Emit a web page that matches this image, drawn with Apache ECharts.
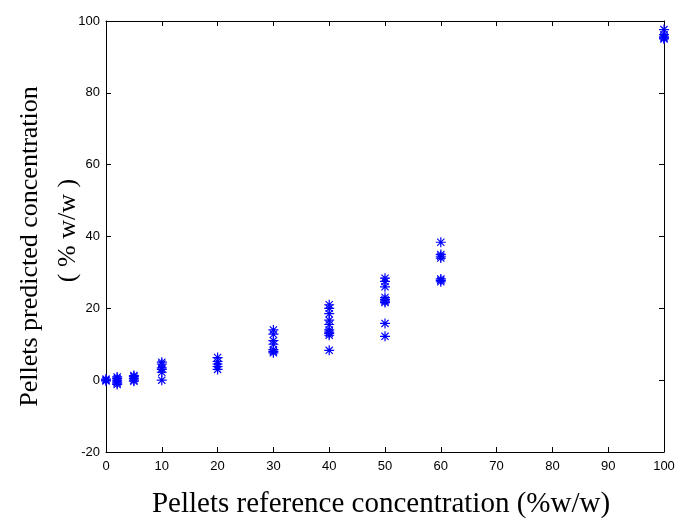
<!DOCTYPE html>
<html><head><meta charset="utf-8">
<script src="https://cdn.jsdelivr.net/npm/echarts@6/dist/echarts.min.js"></script>
<style>html,body{margin:0;padding:0;background:#fff}#c{width:680px;height:520px}</style>
</head><body><div id="c"></div>
<script>
const xTicks = [0,10,20,30,40,50,60,70,80,90,100];
const yTicks = [-20,0,20,40,60,80,100];
const refConc = [0,0,0, 2,2,2,2,2,2, 5,5,5,5,5, 10,10,10,10,10,10, 20,20,20,20,20, 30,30,30,30,30,30,30, 40,40,40,40,40,40,40,40,40,40, 50,50,50,50,50,50,50,50,50, 60,60,60,60,60,60,60, 100,100,100,100,100];
const predConc = [0,0.3,-0.2, -1.2,-0.5,0,0.5,0.9,-0.8, 0,0.5,1,1.3,-0.3, 0,2.2,3,3.4,4.5,5, 6.3,5.2,4.5,3.8,3, 14,12.8,11,10,8.5,8,7.6, 21,20,18.5,16.7,15.5,14,13.4,13,12.5,8.3, 28.4,27.5,26,23,22.4,22,21.6,15.8,12.2, 38.4,35,34.5,34,28.2,27.8,27.4, 97.6,96.2,95.6,95,95.3];

const asterisk = 'path://M4.4,0L5.6,0L5.6,10L4.4,10Z M0,4.4L10,4.4L10,5.6L0,5.6Z M1,1.8L1.8,1L9,8.2L8.2,9Z M8.2,1L9,1.8L1.8,9L1,8.2Z';
const tickFont = {fontFamily:'Liberation Sans Narrow, Liberation Sans, Arial, sans-serif', fontSize:13, color:'#000'};
const serif = 'Liberation Serif, Times New Roman, serif';
const axCommon = {
  axisLine:{show:true, onZero:false, lineStyle:{color:'#000', width:1}},
  axisTick:{show:true, inside:true, length:5, lineStyle:{color:'#000'}},
  splitLine:{show:false}
};
const chart = echarts.init(document.getElementById('c'));
chart.setOption({
  animation:false,
  backgroundColor:'#fff',
  grid:{left:106, right:16, top:21, bottom:68, containLabel:false, outerBoundsMode:'none'},
  xAxis:[
    Object.assign({type:'value', min:0, max:100, interval:10, position:'bottom',
      axisLabel:Object.assign({margin:8, formatter:v=>String(v)}, tickFont),
      name:'Pellets reference concentration (%w/w)', nameLocation:'middle', nameGap:38,
      nameTextStyle:{fontFamily:serif, fontSize:29, color:'#000', padding:[0,8,0,0]}}, axCommon),
    Object.assign({type:'value', min:0, max:100, interval:10, position:'top', axisLabel:{show:false}}, axCommon)
  ],
  yAxis:[
    Object.assign({type:'value', min:-20, max:100, interval:20, position:'left',
      axisLabel:Object.assign({margin:6, formatter:v=>String(v)}, tickFont),
      name:'{a|Pellets predicted concentration}\n{b|( % w/w )}', nameLocation:'middle', nameGap:19,
      nameMoveOverlap:false,
      nameTextStyle:{fontFamily:serif, fontSize:26, color:'#000', lineHeight:38,
        rich:{
          a:{fontFamily:serif, fontSize:26, color:'#000', lineHeight:38, padding:[0,20,0,0]},
          b:{fontFamily:serif, fontSize:26, color:'#000', lineHeight:38, padding:[0,0,0,12]}
        }}}, axCommon),
    Object.assign({type:'value', min:-20, max:100, interval:20, position:'right', axisLabel:{show:false}}, axCommon)
  ],
  series:[{
    type:'scatter', xAxisIndex:0, yAxisIndex:0,
    data: refConc.map((x,i)=>[x, predConc[i]]),
    symbol: asterisk, symbolSize:10,
    itemStyle:{color:'#0000ff', opacity:1}
  }]
});
</script></body></html>
